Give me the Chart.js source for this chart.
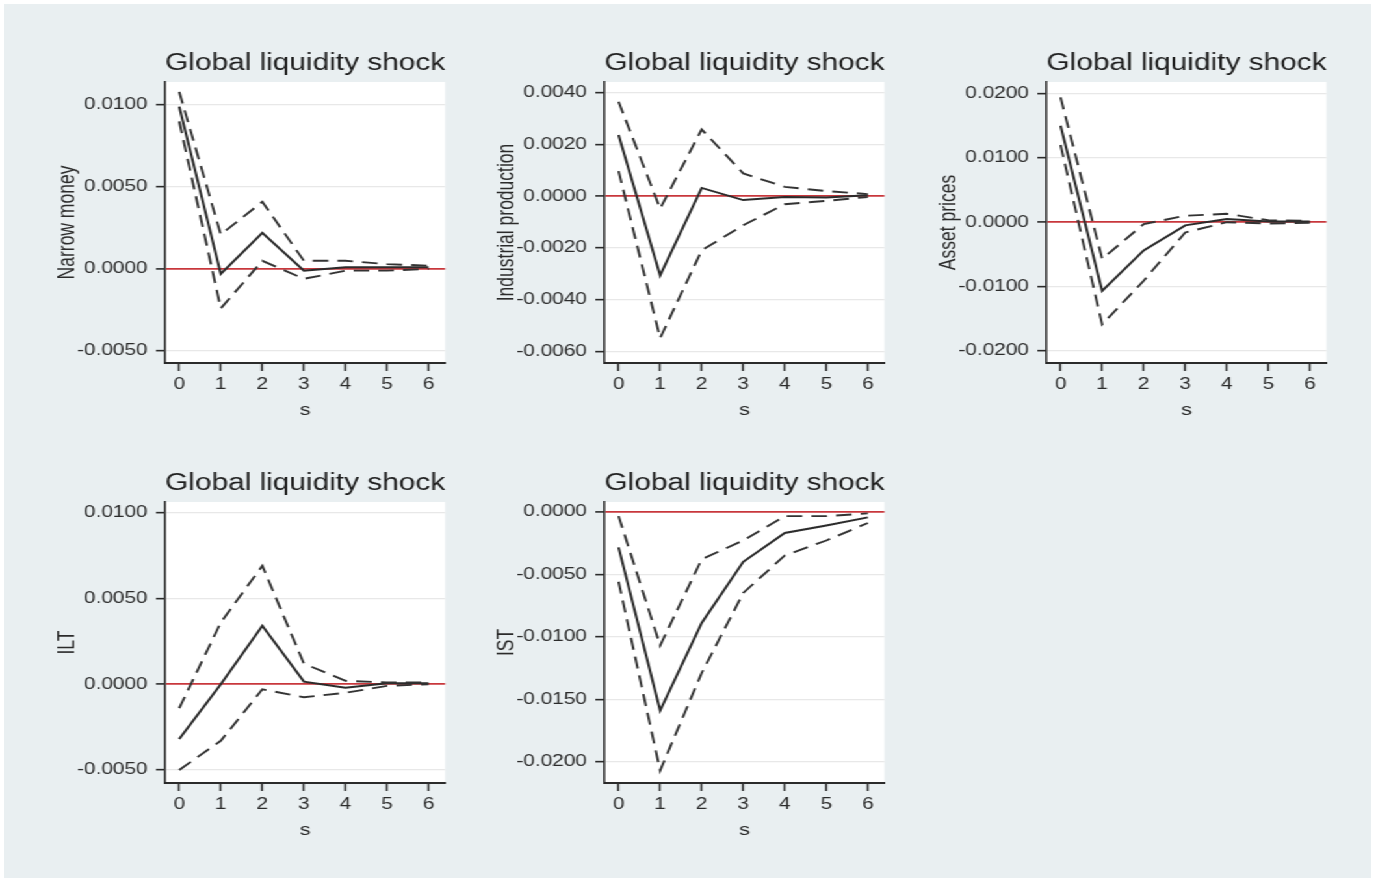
<!DOCTYPE html>
<html>
<head>
<meta charset="utf-8">
<script src="https://cdn.jsdelivr.net/npm/chart.js@4.4.1/dist/chart.umd.min.js"></script>
<style>
html, body { margin: 0; padding: 0; background: #fff; }
#frame { position: absolute; left: 4px; top: 4px; width: 1367px; height: 874px; background: #e9eff1; overflow: hidden; }
#stretch { position: absolute; left: -4px; top: -4px; width: 1060px; height: 882px; transform: scaleX(1.3); transform-origin: 0 0; }
canvas { position: absolute; }
</style>
</head>
<body>
<div id="frame"><div id="stretch">
  <canvas id="c1"></canvas>
  <canvas id="c2"></canvas>
  <canvas id="c3"></canvas>
  <canvas id="c4"></canvas>
  <canvas id="c5"></canvas>
</div></div>
<script>
// horizon (s)
const steps = [0, 1, 2, 3, 4, 5, 6];

// Narrow money
const narrowMoney      = [0.0099, -0.0003, 0.0022, -0.0001, 0.0001, 0.0001, 0.0001];
const narrowMoneyUpper = [0.0108, 0.0021, 0.0041, 0.0005, 0.0005, 0.0003, 0.0002];
const narrowMoneyLower = [0.0090, -0.0024, 0.0005, -0.0006, -0.0001, -0.0001, 0.0000];

// Industrial production
const indProd      = [0.00236, -0.00306, 0.00032, -0.00015, -0.00003, -0.00005, 0.00004];
const indProdUpper = [0.00365, -0.00048, 0.00258, 0.00088, 0.00036, 0.00020, 0.00008];
const indProdLower = [0.00097, -0.00548, -0.00209, -0.00112, -0.00031, -0.00018, -0.00003];

// Asset prices
const assetPrices      = [0.0150, -0.0107, -0.0044, -0.0005, 0.0005, 0.0001, 0.0001];
const assetPricesUpper = [0.0194, -0.0057, -0.0003, 0.0010, 0.0013, 0.0003, 0.0002];
const assetPricesLower = [0.0120, -0.0159, -0.0091, -0.0016, 0.0000, -0.0002, -0.0001];

// ILT
const ilt      = [-0.0032, 0.0000, 0.0034, 0.00015, -0.0002, 0.00005, 0.00005];
const iltUpper = [-0.0014, 0.0036, 0.0069, 0.0012, 0.0002, 0.0001, 0.0001];
const iltLower = [-0.0050, -0.0033, -0.0003, -0.00076, -0.0005, -0.0001, 0.0000];

// IST
const ist      = [-0.00285, -0.0159, -0.0089, -0.0040, -0.0017, -0.0011, -0.00045];
const istUpper = [-0.00035, -0.0107, -0.0038, -0.0023, -0.00035, -0.00035, -0.00013];
const istLower = [-0.0056, -0.0207, -0.0129, -0.0065, -0.0035, -0.0023, -0.0009];

// y tick labels
const ticksNarrow = [-0.005, 0, 0.005, 0.01];
const ticksIndProd = [-0.006, -0.004, -0.002, 0, 0.002, 0.004];
const ticksAsset = [-0.02, -0.01, 0, 0.01, 0.02];
const ticksIlt = [-0.005, 0, 0.005, 0.01];
const ticksIst = [-0.02, -0.015, -0.01, -0.005, 0];

const chartTitle = 'Global liquidity shock';
const xTitle = 's';

// layout (page is stretched horizontally by SX)
const SX = 1.3;
const YW = 110, PAD_R = 12, TOP_H = 42, XH = 60, PAD_B = 15;
const PLOT_W = 280, PLOT_H = 281;
const FONT = '"Liberation Sans", Arial, sans-serif';
const INK = '#2b2b2b';

const plotBg = {
    id: 'plotBg',
    beforeDraw(chart) {
        const { ctx, chartArea: a } = chart;
        ctx.save();
        ctx.fillStyle = '#fff';
        ctx.fillRect(a.left, a.top, a.right - a.left, a.bottom - a.top);
        ctx.restore();
    }
};

function toPoints(vals) {
    return steps.map((s, i) => ({ x: s, y: vals[i] }));
}

function makePanel(p) {
    const canvas = document.getElementById(p.id);
    const w = Math.round(YW + PLOT_W / SX + PAD_R);
    const h = TOP_H + PLOT_H + XH + PAD_B;
    canvas.width = w;
    canvas.height = h;
    canvas.style.width = w + 'px';
    canvas.style.height = h + 'px';
    canvas.style.left = (p.left / SX - YW) + 'px';
    canvas.style.top = (p.top - TOP_H) + 'px';

    const dashed = (vals) => ({
        data: toPoints(vals),
        borderColor: '#333',
        borderWidth: 1.9,
        borderDash: [12, 7],
        pointRadius: 0,
        tension: 0
    });

    new Chart(canvas, {
        type: 'line',
        data: {
            datasets: [
                dashed(p.upper),
                dashed(p.lower),
                {
                    data: toPoints(p.mid),
                    borderColor: '#2b2b2b',
                    borderWidth: 2,
                    pointRadius: 0,
                    tension: 0
                }
            ]
        },
        options: {
            responsive: false,
            animation: false,
            layout: { padding: { left: 0, right: w - YW - PLOT_W / SX, top: 0, bottom: PAD_B } },
            plugins: {
                legend: { display: false },
                tooltip: { enabled: false },
                title: {
                    display: true,
                    text: chartTitle,
                    fullSize: false,
                    color: '#1e1e1e',
                    font: { family: FONT, size: 23, weight: 'normal' },
                    padding: { top: 9.7, bottom: 4.7 }
                }
            },
            scales: {
                x: {
                    type: 'linear',
                    min: -0.34,
                    max: 6.4,
                    afterBuildTicks: s => { s.ticks = steps.map(v => ({ value: v })); },
                    afterFit: s => { s.height = XH; },
                    border: { display: true, color: INK, width: 2 },
                    grid: { display: true, drawOnChartArea: false, drawTicks: true, tickLength: 8, tickColor: INK, tickWidth: 1.5 },
                    ticks: { color: INK, padding: 4, font: { family: FONT, size: 16 }, autoSkip: false, maxRotation: 0, callback: v => String(v) },
                    title: { display: true, text: xTitle, color: INK, font: { family: FONT, size: 17 }, padding: { top: 0, bottom: 2.5 } }
                },
                y: {
                    type: 'linear',
                    min: p.yMin,
                    max: p.yMax,
                    afterBuildTicks: s => { s.ticks = p.ticks.map(v => ({ value: v })); },
                    afterFit: s => { s.width = YW; },
                    border: { display: true, color: INK, width: 1.6 },
                    grid: {
                        color: c => (c.tick && c.tick.value === 0) ? 'rgb(200,55,60)' : '#e8e8e8',
                        lineWidth: c => (c.tick && c.tick.value === 0) ? 1.8 : 1.3,
                        tickColor: INK,
                        tickWidth: 1.6,
                        tickLength: 7
                    },
                    ticks: { color: INK, padding: 6.5, font: { family: FONT, size: 16 }, autoSkip: false, callback: v => v.toFixed(4) },
                    title: { display: true, text: p.yTitle, color: INK, font: { family: FONT, size: 17.5 }, padding: { top: 24.6, bottom: 0 } }
                }
            }
        },
        plugins: [plotBg]
    });
}

const panels = [
    { id: 'c1', left: 165, top: 82, yTitle: 'Narrow money', mid: narrowMoney, upper: narrowMoneyUpper, lower: narrowMoneyLower, ticks: ticksNarrow, yMin: -0.00573, yMax: 0.0114 },
    { id: 'c2', left: 605, top: 82, yTitle: 'Industrial production', mid: indProd, upper: indProdUpper, lower: indProdLower, ticks: ticksIndProd, yMin: -0.00644, yMax: 0.00441 },
    { id: 'c3', left: 1047, top: 82, yTitle: 'Asset prices', mid: assetPrices, upper: assetPricesUpper, lower: assetPricesLower, ticks: ticksAsset, yMin: -0.0219, yMax: 0.0218 },
    { id: 'c4', left: 165, top: 502, yTitle: 'ILT', mid: ilt, upper: iltUpper, lower: iltLower, ticks: ticksIlt, yMin: -0.00576, yMax: 0.01062 },
    { id: 'c5', left: 605, top: 502, yTitle: 'IST', mid: ist, upper: istUpper, lower: istLower, ticks: ticksIst, yMin: -0.0217, yMax: 0.00078 }
];

document.addEventListener('DOMContentLoaded', () => panels.forEach(makePanel));
</script>
</body>
</html>
